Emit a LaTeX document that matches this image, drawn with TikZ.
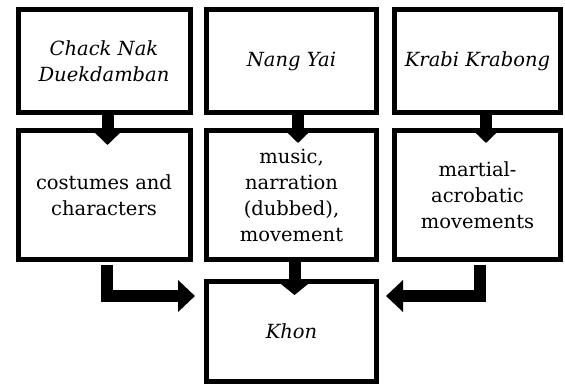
\documentclass[tikz,border=0pt]{standalone}
\usepackage{fontspec}
\setmainfont{DejaVu Serif}
\usetikzlibrary{arrows.meta}

\begin{document}
\begin{tikzpicture}[x=1pt,y=-1pt,
    box/.style={draw,line width=5pt,inner sep=0pt,outer sep=0pt,align=center,
        font=\fontsize{19.5}{26}\selectfont},
    top/.style={box,minimum height=103pt,font=\fontsize{19.5}{26}\selectfont\itshape},
    mid/.style={box,minimum height=129pt},
    arr/.style={line width=12pt,-{Triangle[length=13pt,width=26pt]}},
    elbow/.style={line width=12pt,line join=miter,-{Triangle[length=17pt,width=31pt]}},
]
    \useasboundingbox (0,0) rectangle (565,385);

	 % sources
	 \node[top,minimum width=172pt] at (104,61) (t1) {Chack Nak\\Duekdamban};
	 \node[top,minimum width=170pt] at (291.5,61) (t2) {Nang Yai};
	 \node[top,minimum width=166pt] at (477.5,61) (t3) {Krabi Krabong};

	 % contributions
	 \node[mid,minimum width=172pt] at (104,195) (m1) {costumes and\\characters};
	 \node[mid,minimum width=170pt] at (291.5,195) (m2) {music,\\narration\\(dubbed),\\movement};
	 \node[mid,minimum width=166pt] at (477.5,195) (m3) {martial-\\acrobatic\\movements};

	 \node[box,minimum width=170pt,minimum height=100pt,font=\fontsize{19.5}{26}\selectfont\itshape] at (291.5,331.5) (kh) {Khon};

	\draw[arr] ([xshift=3.5pt]t1.south) -- ([xshift=3.5pt,yshift=-14.5pt]m1.north);
	\draw[arr] ([xshift=6.5pt]t2.south) -- ([xshift=6.5pt,yshift=-12.5pt]m2.north);
	\draw[arr] ([xshift=8.5pt]t3.south) -- ([xshift=8.5pt,yshift=-12.5pt]m3.north);

	\draw[elbow] ([xshift=2.5pt,yshift=-5pt]m1.south) |- ([shift={(-11.5pt,35.5pt)}]kh.west); % left
	\draw[arr,-{Triangle[length=12pt,width=29pt]}] ([xshift=3pt]m2.south) -- ([xshift=3pt,yshift=-13.5pt]kh.north);
	\draw[elbow] ([xshift=2pt,yshift=-5pt]m3.south) |- ([shift={(9.5pt,35.5pt)}]kh.east); % right

\end{tikzpicture}
\end{document}
